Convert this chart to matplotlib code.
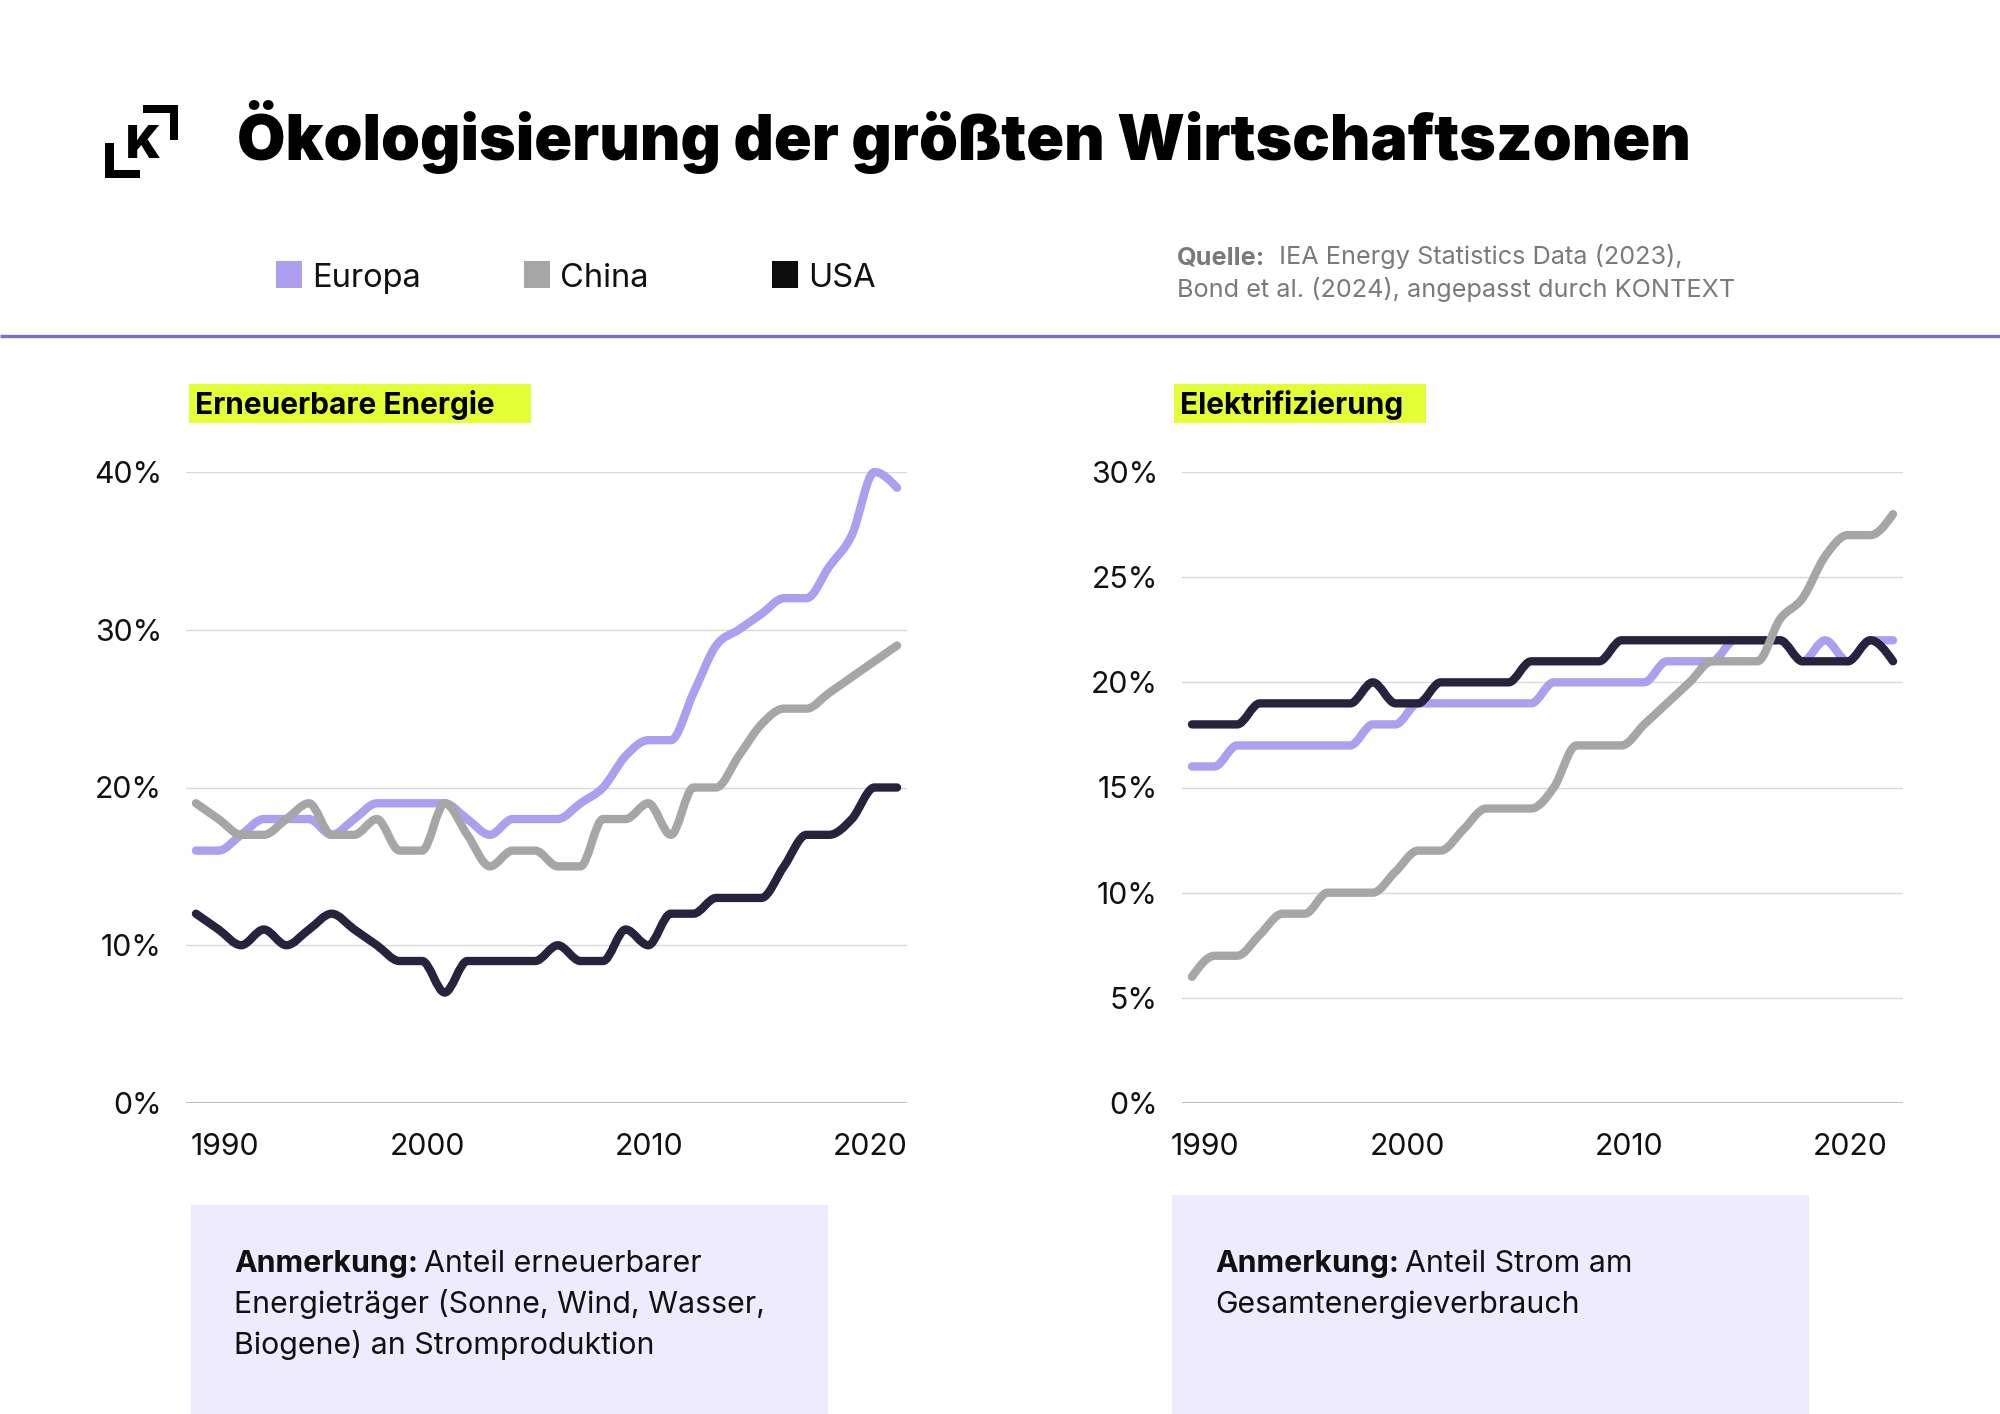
#!/usr/bin/env python3
"""
Ökologisierung der größten Wirtschaftszonen: two line panels (renewables, electrification).
"""
import numpy as np
import matplotlib
matplotlib.use("Agg")
import matplotlib.pyplot as plt
from matplotlib.path import Path
from matplotlib.patches import PathPatch, Rectangle
from matplotlib import font_manager

W, H, DPI = 2000, 1414, 100
PX = 72 / DPI  # points per pixel

available = {f.name for f in font_manager.fontManager.ttflist}
BODY = "Inter" if "Inter" in available else "DejaVu Sans"
HEAD = BODY

# ---- data (in percent) ----
years = [1990, 1991, 1992, 1993, 1994, 1995, 1996, 1997, 1998, 1999,
         2000, 2001, 2002, 2003, 2004, 2005, 2006, 2007, 2008, 2009,
         2010, 2011, 2012, 2013, 2014, 2015, 2016, 2017, 2018, 2019,
         2020, 2021]

ren_europa = [16, 16, 17, 18, 18, 18, 17, 18, 19, 19, 19, 19, 18, 17, 18, 18,
              18, 19, 20, 22, 23, 23, 26, 29, 30, 31, 32, 32, 34, 36, 40, 39]
ren_china = [19, 18, 17, 17, 18, 19, 17, 17, 18, 16, 16, 19, 17, 15, 16, 16,
             15, 15, 18, 18, 19, 17, 20, 20, 22, 24, 25, 25, 26, 27, 28, 29]
ren_usa = [12, 11, 10, 11, 10, 11, 12, 11, 10, 9, 9, 7, 9, 9, 9, 9,
           10, 9, 9, 11, 10, 12, 12, 13, 13, 13, 15, 17, 17, 18, 20, 20]

elec_europa = [16, 16, 17, 17, 17, 17, 17, 17, 18, 18, 19, 19, 19, 19, 19, 19,
               20, 20, 20, 20, 20, 21, 21, 21, 22, 22, 22, 21, 22, 21, 22, 22]
elec_china = [6, 7, 7, 8, 9, 9, 10, 10, 10, 11, 12, 12, 13, 14, 14, 14,
              15, 17, 17, 17, 18, 19, 20, 21, 21, 21, 23, 24, 26, 27, 27, 28]
elec_usa = [18, 18, 18, 19, 19, 19, 19, 19, 20, 19, 19, 20, 20, 20, 20, 21,
            21, 21, 21, 22, 22, 22, 22, 22, 22, 22, 22, 21, 21, 21, 22, 21]

ren_ticks = [0, 10, 20, 30, 40]
elec_ticks = [0, 5, 10, 15, 20, 25, 30]
year_ticks = [1990, 2000, 2010, 2020]

series_names = ["Europa", "China", "USA"]
line_colors = ["#ad9ef0", "#a6a6a6", "#28233d"]
legend_colors = ["#ad9ef0", "#a6a6a6", "#0d0d0d"]
line_z = [2, 4, 3]

TITLE = "Ökologisierung der größten Wirtschaftszonen"
PANEL_TITLES = ["Erneuerbare Energie", "Elektrifizierung"]
NOTES = [["Anteil erneuerbarer", "Energieträger (Sonne, Wind, Wasser,", "Biogene) an Stromproduktion"],
         ["Anteil Strom am", "Gesamtenergieverbrauch"]]

HIGHLIGHT = "#e4ff36"
NOTE_BG = "#eeebfe"
RULE = "#7c70c6"
TXT = 21.8  # body text size


def monotone_path(x, y):
    """Monotone cubic (d3 curveMonotoneX style) through the data points."""
    x = np.asarray(x, float)
    y = np.asarray(y, float)
    n = len(x)
    h = np.diff(x)
    s = np.diff(y) / h
    t = np.zeros(n)
    for i in range(1, n - 1):
        h0, h1, s0, s1 = h[i - 1], h[i], s[i - 1], s[i]
        p = (s0 * h1 + s1 * h0) / (h0 + h1)
        t[i] = (np.sign(s0) + np.sign(s1)) * min(abs(s0), abs(s1), 0.5 * abs(p))
    t[0] = (3 * s[0] - t[1]) / 2
    t[-1] = (3 * s[-1] - t[-2]) / 2
    verts = [(x[0], y[0])]
    codes = [Path.MOVETO]
    for i in range(n - 1):
        d = h[i] / 3
        verts += [(x[i] + d, y[i] + d * t[i]),
                  (x[i + 1] - d, y[i + 1] - d * t[i + 1]),
                  (x[i + 1], y[i + 1])]
        codes += [Path.CURVE4] * 3
    return Path(verts, codes)


def draw_panel(ax, series, yticks, label_offsets):
    ax.set_xlim(1989.56, 2021.44)
    ax.set_ylim(yticks[0], yticks[-1])
    ax.set_facecolor("none")
    for sp in ax.spines.values():
        sp.set_visible(False)
    ax.set_yticks(yticks)
    ax.set_yticklabels([f"{v}%" for v in yticks])
    ax.tick_params(axis="y", length=0, pad=24 * PX, labelsize=TXT, labelcolor="#111111")
    for lab in ax.get_yticklabels():
        lab.set_family(BODY)
    ax.set_xticks([])
    for v in yticks[1:]:
        ax.axhline(v, color="#d9d9d9", lw=1.0, zorder=1)
    ax.axhline(yticks[0], color="#b4b4b4", lw=1.2, zorder=1)

    for vals, col, z in zip(series, line_colors, line_z):
        ax.add_patch(PathPatch(monotone_path(years, vals), fill=False, edgecolor=col,
                               lw=6.0, capstyle="round", joinstyle="round",
                               clip_on=False, zorder=z))

    for yr, off in zip(year_ticks, label_offsets):
        ax.annotate(str(yr), xy=(yr, 0), xycoords=("data", "axes fraction"),
                    xytext=(off * PX, -52 * PX), textcoords="offset points",
                    ha="center", va="baseline", fontsize=TXT, family=BODY,
                    color="#111111")


def rich_line(ax, x, y, bold, rest, size, color, gap_px=7):
    t1 = ax.text(x, y, bold, fontsize=size, family=BODY, weight="bold",
                 color=color, va="baseline", ha="left")
    ax.annotate(rest, xy=(1, 0), xycoords=t1, xytext=(gap_px * PX, 0),
                textcoords="offset points", fontsize=size, family=BODY,
                color=color, va="bottom", ha="left")


fig = plt.figure(figsize=(W / DPI, H / DPI), dpi=DPI)
fig.patch.set_facecolor("white")

bg = fig.add_axes([0, 0, 1, 1], zorder=0)
bg.set_xlim(0, W)
bg.set_ylim(H, 0)
bg.axis("off")

# logo
k = dict(color="#000000", lw=0, zorder=2)
bg.add_patch(Rectangle((143, 105), 35, 8, **k))
bg.add_patch(Rectangle((170, 105), 8, 35, **k))
bg.add_patch(Rectangle((105, 143), 9, 35, **k))
bg.add_patch(Rectangle((105, 170), 35, 8, **k))
bg.text(143, 158, "K", fontsize=33, family=HEAD, weight="black", ha="center",
        va="baseline", color="#000000")

# title
bg.text(237, 160, TITLE, fontsize=45, family=HEAD, weight="black",
        va="baseline", ha="left", color="#000000")

# legend
legend_x = [276, 524, 772]
for lx, name, col in zip(legend_x, series_names, legend_colors):
    bg.add_patch(Rectangle((lx, 261), 26, 27, color=col, lw=0))
    bg.text(lx + 36, 287, name, fontsize=23.5, family=BODY, va="baseline",
            ha="left", color="#111111")

# source
rich_line(bg, 1177, 264, "Quelle:", " IEA Energy Statistics Data (2023),", 18.2, "#7a7a7a")
bg.text(1177, 297, "Bond et al. (2024), angepasst durch KONTEXT", fontsize=18.2,
        family=BODY, color="#7a7a7a", va="baseline", ha="left")

# separator rule
bg.plot([0, W], [336, 336], color=RULE, lw=2.4, solid_capstyle="butt")

# panel titles
for (bx0, bx1), txt in zip([(189, 531), (1174, 1426)], PANEL_TITLES):
    bg.add_patch(Rectangle((bx0, 384), bx1 - bx0, 39, color=HIGHLIGHT, lw=0))
    bg.text(bx0 + 6, 414, txt, fontsize=21.5, family=BODY, weight="bold",
            va="baseline", ha="left", color="#000000")

# notes
note_boxes = [(191, 828, 1205), (1172, 1809, 1195)]
for (nx0, nx1, ny0), lines in zip(note_boxes, NOTES):
    bg.add_patch(Rectangle((nx0, ny0), nx1 - nx0, H - ny0, color=NOTE_BG, lw=0))
    tx = nx0 + 43
    rich_line(bg, tx, 1272, "Anmerkung:", lines[0], TXT, "#111111", gap_px=6)
    for i, ln in enumerate(lines[1:]):
        bg.text(tx, 1313 + 41 * i, ln, fontsize=TXT, family=BODY,
                va="baseline", ha="left", color="#111111")

# chart panels
ax_ren = fig.add_axes([186 / W, 1 - 1103 / H, 721 / W, 631 / H], zorder=1)
draw_panel(ax_ren, [ren_europa, ren_china, ren_usa], ren_ticks, [29, 5, 1, -4])

ax_elec = fig.add_axes([1182 / W, 1 - 1103 / H, 721 / W, 631 / H], zorder=1)
draw_panel(ax_elec, [elec_europa, elec_china, elec_usa], elec_ticks, [13, -11, -15, -20])

fig.savefig("out.png", dpi=DPI, facecolor="white")
